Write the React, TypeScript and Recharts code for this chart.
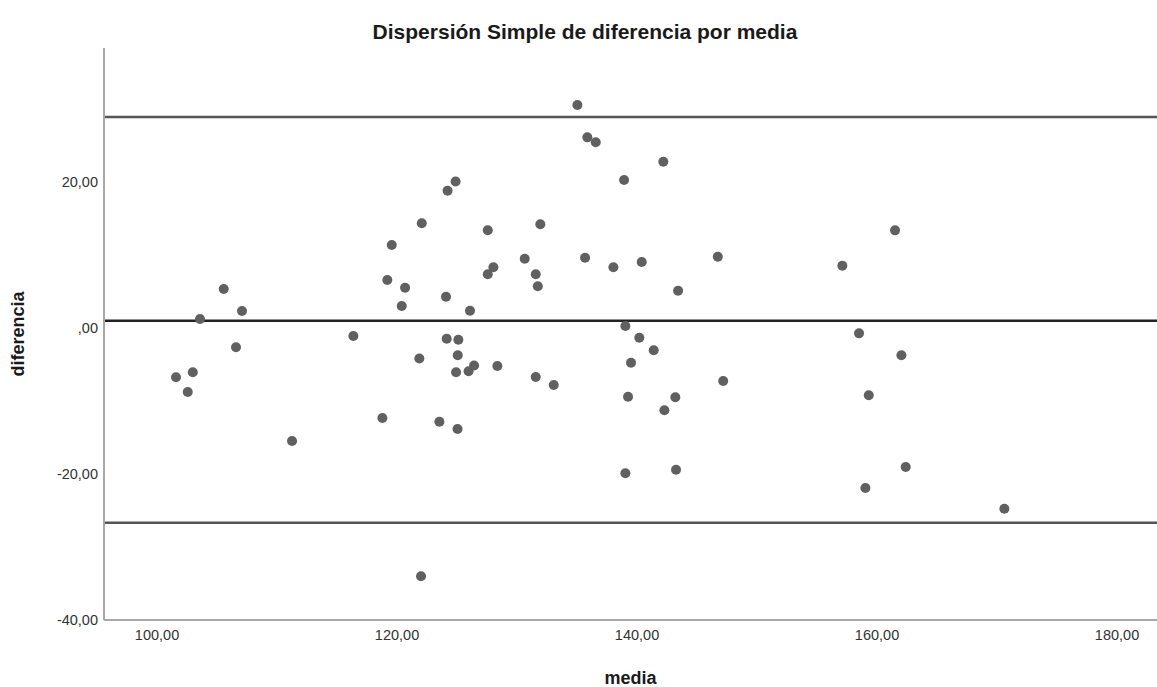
import React from "react";
import { ScatterChart, Scatter, XAxis, YAxis, ReferenceLine, Label } from "recharts";

const mediaValues: number[] = [
  101.58, 102.98, 102.56, 103.58, 105.56, 107.08, 106.58, 111.25, 116.36, 118.78,
  119.19, 119.56, 120.67, 120.39, 121.86, 122.06, 122.0, 123.53, 124.08, 124.21,
  124.88, 124.14, 125.11, 125.06, 124.92, 125.04, 125.96, 126.42, 126.08, 127.56,
  127.56, 128.03, 128.36, 130.64, 131.94, 131.56, 131.73, 131.56, 133.06, 135.03,
  135.86, 136.56, 135.67, 138.03, 138.92, 139.03, 139.25, 139.03, 139.5, 140.19,
  140.39, 141.39, 142.19, 142.28, 143.19, 143.42, 143.25, 146.73, 147.18, 157.11,
  158.5, 159.31, 159.03, 161.5, 162.03, 162.39, 170.61,
];

const diferenciaValues: number[] = [
  -6.75, -6.05, -8.77, 1.23, 5.34, 2.33, -2.64, -15.48, -1.1, -12.33,
  6.58, 11.37, 5.52, 3.01, -4.18, 14.34, -34.01, -12.84, 4.29, 18.81,
  20.07, -1.47, -1.6, -3.73, -6.05, -13.84, -5.93, -5.14, 2.37, 13.4,
  7.36, 8.32, -5.21, 9.49, 14.21, 7.36, 5.71, -6.71, -7.81, 30.55,
  26.12, 25.44, 9.63, 8.32, 20.27, 0.27, -9.41, -19.9, -4.77, -1.33,
  9.04, -3.04, 22.78, -11.27, -9.49, 5.11, -19.41, 9.77, -7.26, 8.53,
  -0.73, -9.22, -21.92, 13.38, -3.74, -19.04, -24.75,
];

const xTicks: number[] = [100, 120, 140, 160, 180];
const yTicks: number[] = [-40, -20, 0, 20];
const xDomain: [number, number] = [95.58, 183.33];
const yDomain: [number, number] = [-40, 38.36];

const meanDiff = 1.0;
const upperLimit = 28.9;
const lowerLimit = -26.67;

const titleText = "Dispersión Simple de diferencia por media";
const xLabel = "media";
const yLabel = "diferencia";

const data = mediaValues.map((m, i) => ({ media: m, diferencia: diferenciaValues[i] }));

const fmt = (v: number) => (v === 0 ? ",00" : v.toFixed(2).replace(".", ","));

const FONT = "'Liberation Sans', Arial, sans-serif";

export default function App() {
  return (
    <div style={{ position: "absolute", left: 0, top: 0, width: 1157, height: 687, background: "#fff", fontFamily: FONT }}>
      <div
        style={{
          position: "absolute",
          left: 0,
          width: 1170,
          top: 18,
          textAlign: "center",
          fontSize: 21,
          fontWeight: "bold",
          color: "#1a1a1a",
          lineHeight: "28px",
        }}
      >
        {titleText}
      </div>
      <ScatterChart width={1157} height={687} margin={{ top: 48, right: 0, bottom: 0, left: 0 }}>
        <XAxis
          type="number"
          dataKey="media"
          domain={xDomain}
          ticks={xTicks}
          allowDataOverflow
          height={67}
          tickFormatter={fmt}
          tickLine={false}
          tickSize={5}
          tickMargin={5}
          axisLine={{ stroke: "#a8a8a8", strokeWidth: 2 }}
          tick={{ fill: "#333", fontSize: 14.5, fontFamily: FONT }}
        >
          <Label
            value={xLabel}
            position="insideBottom"
            offset={3}
            style={{ fontSize: 18, fontWeight: "bold", fill: "#1a1a1a", fontFamily: FONT }}
          />
        </XAxis>
        <YAxis
          type="number"
          dataKey="diferencia"
          domain={yDomain}
          ticks={yTicks}
          allowDataOverflow
          width={104}
          tickFormatter={fmt}
          tickLine={false}
          tickSize={4}
          tickMargin={2}
          axisLine={{ stroke: "#a8a8a8", strokeWidth: 2 }}
          tick={{ fill: "#333", fontSize: 14.5, fontFamily: FONT }}
        >
          <Label
            value={yLabel}
            angle={-90}
            position="insideLeft"
            offset={18}
            style={{ fontSize: 18, fontWeight: "bold", fill: "#1a1a1a", fontFamily: FONT, textAnchor: "middle" }}
          />
        </YAxis>
        <ReferenceLine y={upperLimit} stroke="#555" strokeWidth={2.5} />
        <ReferenceLine y={meanDiff} stroke="#222" strokeWidth={2.5} />
        <ReferenceLine y={lowerLimit} stroke="#555" strokeWidth={2.5} />
        <Scatter data={data} fill="#606060" isAnimationActive={false} shape={(p: any) => <circle cx={p.cx} cy={p.cy} r={5} fill="#606060" />} />
      </ScatterChart>
    </div>
  );
}
